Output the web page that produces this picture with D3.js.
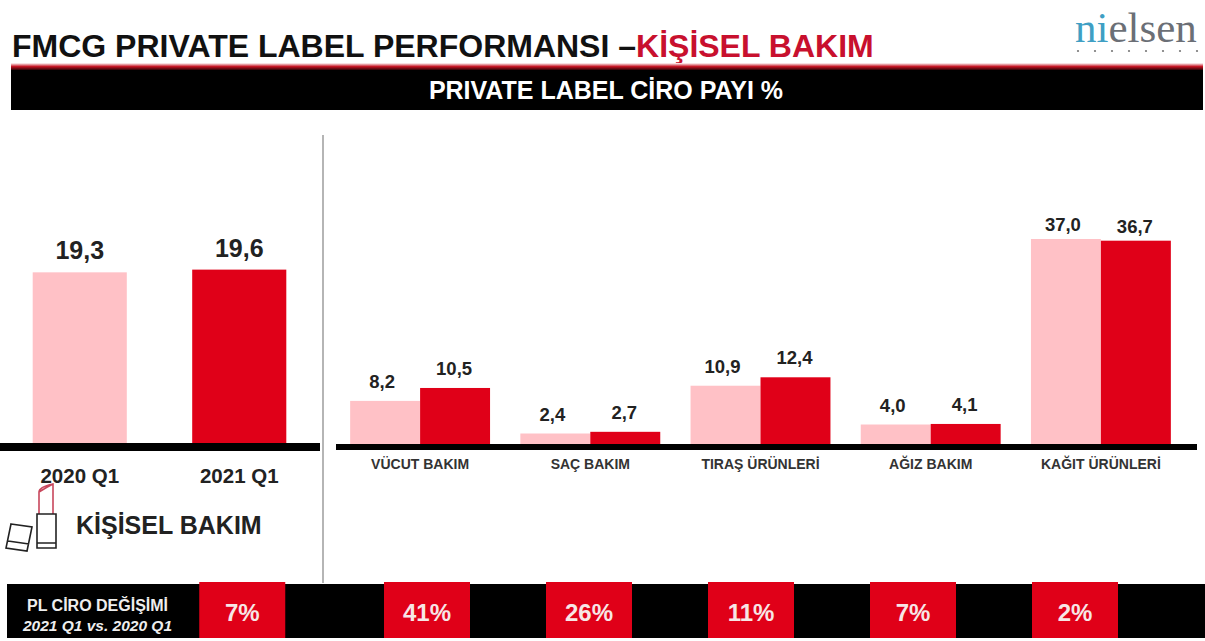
<!DOCTYPE html>
<html lang="tr"><head><meta charset="utf-8">
<script src="https://cdnjs.cloudflare.com/ajax/libs/d3/7.8.5/d3.min.js"></script>
<style>html,body{margin:0;padding:0;background:#fff;overflow:hidden}svg{display:block;font-family:"Liberation Sans",Arial,sans-serif}</style>
</head><body><div id="c"></div>
<script>
const periods = ["2020 Q1","2021 Q1"];
const totalValues = [19.3,19.6];
const totalChange = ["7%"];
const categories = ["VÜCUT BAKIM","SAÇ BAKIM","TIRAŞ ÜRÜNLERİ","AĞIZ BAKIM","KAĞIT ÜRÜNLERİ"];
const values2020 = [8.2,2.4,10.9,4.0,37.0];
const values2021 = [10.5,2.7,12.4,4.1,36.7];
const changes = ["41%","26%","11%","7%","2%"];
const LIGHT="#ffc1c6", RED="#e00018";
const W=1205,H=641,base=447;
const fmt=d3.formatLocale({decimal:",",thousands:".",grouping:[3],currency:["","₺"]}).format(".1f");
const svg=d3.select("#c").append("svg").attr("width",W).attr("height",H);
const defs=svg.append("defs");
const g=defs.append("linearGradient").attr("id","rule").attr("x1",0).attr("x2",0).attr("y1",0).attr("y2",1);
g.append("stop").attr("offset","0").attr("stop-color","#fff");
g.append("stop").attr("offset",".45").attr("stop-color","#c4101f");
g.append("stop").attr("offset","1").attr("stop-color","#000");

// Header
const title=svg.append("text").attr("x",12).attr("y",57).attr("font-size",32).attr("font-weight",700).attr("fill","#111");
title.append("tspan").text("FMCG PRIVATE LABEL PERFORMANSI –");
title.append("tspan").attr("fill","#c8102e").text("KİŞİSEL BAKIM");
svg.append("rect").attr("x",11).attr("y",63).attr("width",1192).attr("height",8).attr("fill","url(#rule)");
svg.append("rect").attr("x",11).attr("y",70).attr("width",1192).attr("height",40).attr("fill","#000");
svg.append("text").attr("x",606).attr("y",99).attr("text-anchor","middle").attr("font-size",25).attr("font-weight",700).attr("fill","#fff").text("PRIVATE LABEL CİRO PAYI %");

// Logo
const logo=svg.append("text").attr("x",1075).attr("y",42).attr("font-family","'Liberation Serif',serif").attr("font-size",43).attr("fill","#6b6f76");
logo.append("tspan").attr("fill","#3f9fc4").text("ni");
logo.append("tspan").text("elsen");
svg.append("g").selectAll("circle").data(d3.range(8)).join("circle")
  .attr("cx",d=>1078+d*17).attr("cy",51).attr("r",1.1).attr("fill","#777");

// Divider
svg.append("line").attr("x1",323).attr("x2",323).attr("y1",135).attr("y2",583).attr("stroke","#b5b5b5").attr("stroke-width",2);

// Left panel
const xL=d3.scaleBand().domain(periods).range([0,319]).paddingInner(.41).paddingOuter(.205);
const yL=d3.scaleLinear().domain([0,20]).range([base,base-181]);
const tot=periods.map((p,i)=>({p,v:totalValues[i]}));
svg.append("g").selectAll("rect").data(tot).join("rect")
  .attr("x",d=>xL(d.p)).attr("width",xL.bandwidth()).attr("y",d=>yL(d.v)).attr("height",d=>base-yL(d.v))
  .attr("fill",(d,i)=>i?RED:LIGHT);
svg.append("g").selectAll("text").data(tot).join("text")
  .attr("x",d=>xL(d.p)+xL.bandwidth()/2).attr("y",d=>yL(d.v)-13).attr("text-anchor","middle")
  .attr("font-size",25).attr("font-weight",700).attr("fill","#222").text(d=>fmt(d.v));
const axL=svg.append("g").attr("transform",`translate(0,${base})`).call(d3.axisBottom(xL).tickSize(0).tickPadding(21));
axL.select(".domain").attr("stroke","#000").attr("stroke-width",8).attr("d","M0,0H320");
axL.selectAll("text").attr("font-family","'Liberation Sans',sans-serif").attr("font-size",20.5).attr("font-weight",700).attr("fill","#222");

// Icons
const icon=svg.append("g").attr("fill","none").attr("stroke-width",1.6);
icon.append("path").attr("stroke","#c8475c").attr("d","M39,514V492Q39,487 53,484V514M39,492Q47,487 53,484");
icon.append("path").attr("stroke","#222").attr("d","M37,514H56V548H37ZM37,543H56");
icon.append("path").attr("stroke","#222").attr("d","M11,524L32,527L27,551L6,548ZM8,541L29,544");
svg.append("text").attr("x",76).attr("y",534).attr("font-size",25).attr("font-weight",700).attr("fill","#222").text("KİŞİSEL BAKIM");

// Right panel
const x0=d3.scaleBand().domain(categories).range([335,1186]).paddingInner(.178).paddingOuter(.089);
const x1=d3.scaleBand().domain(["2020","2021"]).range([0,x0.bandwidth()]);
const yR=d3.scaleLinear().domain([0,37]).range([base,base-208]);
const groups=svg.append("g").selectAll("g").data(categories).join("g").attr("transform",d=>`translate(${x0(d)},0)`);
const pts=(c,i)=>[{s:"2020",v:values2020[i]},{s:"2021",v:values2021[i]}];
groups.selectAll("rect").data(pts).join("rect")
  .attr("x",d=>x1(d.s)).attr("width",x1.bandwidth()).attr("y",d=>yR(d.v)).attr("height",d=>base-yR(d.v))
  .attr("fill",d=>d.s==="2020"?LIGHT:RED);
groups.selectAll("text").data(pts).join("text")
  .attr("x",d=>x1(d.s)+x1.bandwidth()/2-(d.s==="2020"?3:1)).attr("y",d=>yR(d.v)-(d.v>30?8:13)).attr("text-anchor","middle")
  .attr("font-size",18.5).attr("font-weight",700).attr("fill","#222").text(d=>fmt(d.v));
const axR=svg.append("g").attr("transform",`translate(0,${base})`).call(d3.axisBottom(x0).tickSize(0).tickPadding(12));
axR.select(".domain").attr("stroke","#000").attr("stroke-width",6).attr("d","M336,0H1197");
axR.selectAll("text").attr("font-family","'Liberation Sans',sans-serif").attr("font-size",14).attr("font-weight",700).attr("fill","#333");

// Bottom strip
svg.append("rect").attr("x",7).attr("y",584).attr("width",1198).attr("height",54).attr("fill","#000");
svg.append("text").attr("x",97.5).attr("y",611).attr("text-anchor","middle").attr("font-size",16).attr("font-weight",700).attr("fill","#eee").text("PL CİRO DEĞİŞİMİ");
svg.append("text").attr("x",97.5).attr("y",631).attr("text-anchor","middle").attr("font-size",15.5).attr("font-weight",700).attr("font-style","italic").attr("fill","#eee").text("2021 Q1 vs. 2020 Q1");
const xC=d3.scaleBand().domain(categories).range([346,1156]).paddingInner(.47).paddingOuter(.235);
const boxW=86;
const chip=(cx,t)=>{
  svg.append("rect").attr("x",cx-boxW/2).attr("y",582).attr("width",boxW).attr("height",56).attr("fill",RED);
  svg.append("text").attr("x",cx).attr("y",621).attr("text-anchor","middle").attr("font-size",24).attr("font-weight",700).attr("fill","#f7e6e6").text(t);
};
chip(xL(periods[1])+xL.bandwidth()/2+3,totalChange[0]);
categories.forEach((c,i)=>chip(xC(c)+xC.bandwidth()/2,changes[i]));
</script></body></html>
